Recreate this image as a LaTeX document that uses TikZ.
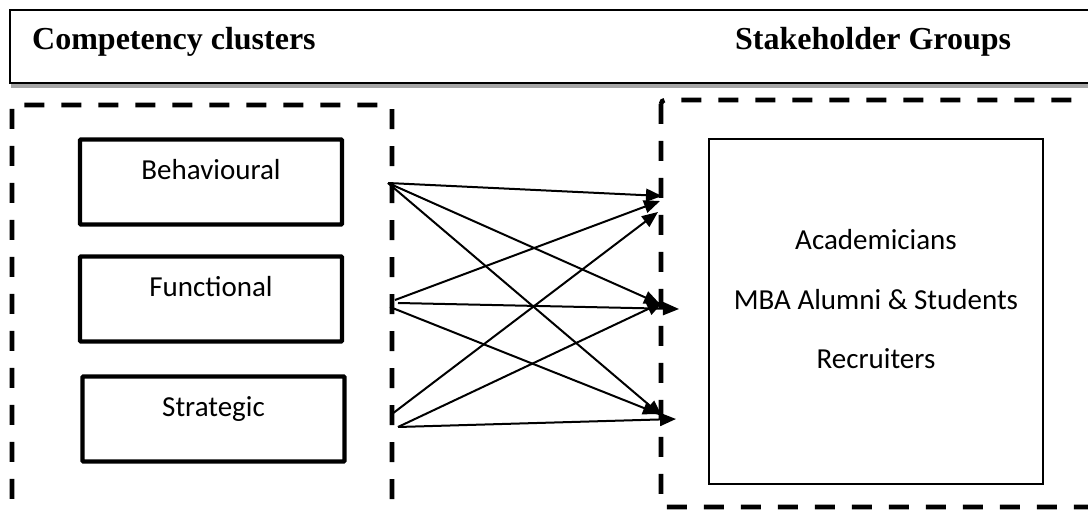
\documentclass[tikz,border=0pt]{standalone}
\usepackage{fontspec}
\setmainfont{Carlito}
\newfontfamily\headfont{Liberation Serif}
\usetikzlibrary{arrows.meta, positioning, calc, shadows}

\begin{document}
\begin{tikzpicture}[
        x=1pt, y=-1pt,
        headbox/.style={
            rectangle,
            draw=black,
            line width=2.8pt,
            fill=white,
            minimum width=1090pt,
            minimum height=73pt,
            drop shadow={shadow xshift=1pt, shadow yshift=-5pt, fill=black, opacity=0.35}
        },
        headtext/.style={
            font=\headfont\bfseries\fontsize{32}{38}\selectfont,
            inner sep=0pt,
            anchor=base west
        },
        groupframe/.style={
            draw=black,
            line width=4.6pt,
            dash pattern=on 20pt off 17pt,
            rounded corners=4pt
        },
        cluster/.style={
            rectangle,
            rounded corners=1pt,
            draw=black,
            line width=4.4pt,
            minimum width=262pt,
            inner sep=0pt,
            text height=40.5pt,
            text depth=44.5pt,
            anchor=base,
            font=\fontsize{29}{35}\selectfont
        },
        grpbox/.style={
            rectangle,
            draw=black,
            line width=2.4pt,
            minimum width=334pt,
            minimum height=345pt
        },
        grptext/.style={
            inner sep=0pt,
            anchor=base,
            font=\fontsize{29}{35}\selectfont
        },
        link/.style={
            -{Triangle[length=16pt, width=13pt]},
            line width=2pt
        }
    ]
        \useasboundingbox (0,0) rectangle (1088,510);
        \clip (0,0) rectangle (1088,510);

        % header
        \node[headbox] (head) at (555,46.5) {};
        \node[headtext] (hclusters) at (32,50) {Competency clusters};
        \node[headtext] (hstake) at (735,50) {Stakeholder Groups};

        % dashed frames
        \draw[groupframe] (12,105) rectangle (392,560);
        \draw[groupframe] (661,100) rectangle (1130,507);

        % competency clusters
        \node[cluster] (beh) at (211,180) {Behavioural};
        \node[cluster] (fun) at (211,297) {Functional};
        \node[cluster] (str) at (213.5,417) {Strategic};

        % stakeholder groups
        \node[grpbox] (grp) at (876,311.5) {};
        \node[grptext] (acad) at (876,250) {Academicians};
        \node[grptext] (alum) at (876,310) {MBA Alumni \& Students};
        \node[grptext] (recr) at (876,369) {Recruiters};

        % connector ends
        \coordinate (bOut) at (388,183);
        \coordinate (fOutA) at (395,300);
        \coordinate (fOutB) at (398,303);
        \coordinate (fOutC) at (390,307);
        \coordinate (sOutA) at (392,414);
        \coordinate (sOutB) at (398,427);
        \coordinate (aIn) at (662,196);
        \coordinate (aIn2) at (660,201);
        \coordinate (aIn3) at (658,212);
        \coordinate (mIn) at (660,304);
        \coordinate (mIn2) at (679,309);
        \coordinate (mIn3) at (663,302);
        \coordinate (rIn) at (662,416);
        \coordinate (rIn2) at (659,414);
        \coordinate (rIn3) at (676,419);

        \foreach \from/\to in {bOut/aIn, bOut/mIn, bOut/rIn,
                fOutA/aIn2, fOutB/mIn2, fOutC/rIn2,
                sOutA/aIn3, sOutB/mIn3, sOutB/rIn3}
            \draw[link] (\from) -- (\to);
    \end{tikzpicture}
\end{document}
